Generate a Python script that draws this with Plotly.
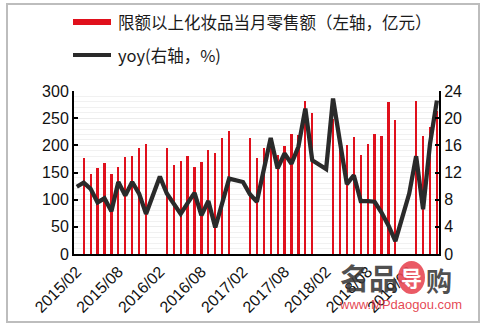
import plotly.graph_objects as go

# Monthly categories 2015/02 .. 2019/06 (January has no standalone figure)
months = []
for yr in range(2015, 2020):
    for mo in range(1, 13):
        if (yr == 2015 and mo < 2) or (yr == 2019 and mo > 6):
            continue
        months.append(f"{yr}/{mo:02d}")

# 限额以上化妆品当月零售额（亿元）; Jan/Feb only published as a combined total
sales_2015 = [None, 177, 147, 159, 167, 147, 160, 178, 180, 196, 203]
sales_2016 = [None, None, 196, 163, 171, 181, 161, 169, 191, 186, 214, 226]
sales_2017 = [None, None, 214, 176, 195, 213, 182, 198, 220, 219, 282, 260]
sales_2018 = [None, None, 248, 205, 200, 216, 183, 202, 221, 217, 279, 246]
sales_2019 = [None, None, 281, 218, 233, 264]
sales = sales_2015 + sales_2016 + sales_2017 + sales_2018 + sales_2019

# 同比增速（%）; Feb value is the Jan-Feb cumulative growth
yoy_2015 = [9.9, 10.5, 9.6, 7.6, 8.2, 6.3, 10.6, 8.6, 10.6, 8.9, 5.9]
yoy_2016 = [None, 11.4, 8.9, 7.4, 5.9, 7.5, 9.0, 5.7, 7.8, 3.9, 7.8, 11.1]
yoy_2017 = [None, 10.6, 8.8, 7.7, 12.4, 17.1, 12.6, 14.8, 13.3, 15.8, 21.4, 13.8]
yoy_2018 = [None, 12.5, 22.9, 16.5, 10.3, 11.6, 7.8, 7.8, 7.7, 6.1, 4.2, 1.9]
yoy_2019 = [None, 8.9, 14.4, 6.6, 16.2, 22.6]
yoy = yoy_2015 + yoy_2016 + yoy_2017 + yoy_2018 + yoy_2019

tick_labels = months[::6]

legend_bar = "限额以上化妆品当月零售额（左轴，亿元）"
legend_line = "yoy(右轴，%)"

RED = "#e0101c"
DARK = "#2a2a2a"
W, H = 485, 331
ML, MR, MT, MB = 74, 46, 91, 77
PW, PH = W - ML - MR, H - MT - MB


def px(x):
    return (x - ML) / PW


def py(y):
    return (H - MB - y) / PH


fig = go.Figure()
fig.add_bar(x=months, y=sales, marker=dict(color=RED, line=dict(width=0)),
            width=0.32, yaxis="y", showlegend=False)
fig.add_scatter(x=months, y=yoy, mode="lines", connectgaps=True,
                line=dict(color=DARK, width=4.3), yaxis="y2", showlegend=False)

tick_font = dict(family="Liberation Sans, Arial, sans-serif", size=16, color="#111111")
axis_common = dict(showline=True, linecolor="black", linewidth=2, ticks="inside",
                   ticklen=4, tickwidth=2, tickcolor="black", zeroline=False,
                   tickfont=tick_font, fixedrange=True)

fig.update_layout(
    width=W, height=H,
    margin=dict(l=ML, r=MR, t=MT, b=MB, pad=0),
    paper_bgcolor="white", plot_bgcolor="white",
    bargap=0,
    xaxis=dict(type="category", categoryorder="array", categoryarray=months,
               range=[-0.4, 52.3], tickmode="array", tickvals=tick_labels,
               ticktext=tick_labels, tickangle=-45, showline=True,
               linecolor="black", linewidth=2, ticks="", showgrid=False,
               tickfont=tick_font),
    yaxis=dict(range=[0, 300], dtick=50, showgrid=True, gridcolor="#ececec",
               gridwidth=1,
               minor=dict(dtick=10, showgrid=True, gridcolor="#f1f1f1", gridwidth=1),
               **axis_common),
    yaxis2=dict(range=[0, 24], dtick=4, overlaying="y", side="right",
                showgrid=False, **axis_common),
)

shapes = [
    # outer frame
    dict(type="rect", xref="paper", yref="paper", x0=px(7), x1=px(479),
         y0=py(322), y1=py(4), line=dict(color="#bdbdbd", width=2)),
    # legend swatches
    dict(type="rect", xref="paper", yref="paper", x0=px(73), x1=px(111),
         y0=py(25), y1=py(19), fillcolor=RED, line=dict(width=0)),
    dict(type="line", xref="paper", yref="paper", x0=px(73), x1=px(111),
         y0=py(55), y1=py(55), line=dict(color=DARK, width=4)),
    # site mark badge
    dict(type="circle", xref="paper", yref="paper", x0=px(398), x1=px(425),
         y0=py(294), y1=py(261), fillcolor="rgba(232,72,84,0.9)", line=dict(width=0)),
]

cjk = "Noto Sans CJK SC, sans-serif"
annotations = [
    dict(text=legend_bar, x=px(116), y=py(22), xref="paper", yref="paper",
         xanchor="left", yanchor="middle", showarrow=False,
         font=dict(family=cjk, size=16.5, color="#1a1a1a")),
    dict(text=legend_line, x=px(116), y=py(55), xref="paper", yref="paper",
         xanchor="left", yanchor="middle", showarrow=False,
         font=dict(family=cjk, size=16.5, color="#1a1a1a")),
    dict(text="名品", x=px(369), y=py(277), xref="paper", yref="paper",
         xanchor="center", yanchor="middle", showarrow=False,
         font=dict(family=cjk, size=29, color="rgba(55,55,55,0.88)", weight="bold")),
    dict(text="导", x=px(411.5), y=py(277), xref="paper", yref="paper",
         xanchor="center", yanchor="middle", showarrow=False,
         font=dict(family=cjk, size=21, color="white", weight="bold")),
    dict(text="购", x=px(439), y=py(279.5), xref="paper", yref="paper",
         xanchor="center", yanchor="middle", showarrow=False,
         font=dict(family=cjk, size=26, color="rgba(55,55,55,0.88)", weight="bold")),
    dict(text="www.MPdaogou.com", x=px(400), y=py(304), xref="paper", yref="paper",
         xanchor="center", yanchor="middle", showarrow=False,
         font=dict(family="Liberation Sans, Arial, sans-serif", size=13,
                   color="rgba(226,50,62,0.9)")),
]

fig.update_layout(shapes=shapes, annotations=annotations)
fig.write_html("out.html")
